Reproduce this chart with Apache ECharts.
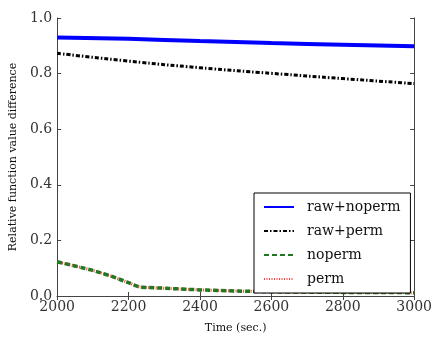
<!DOCTYPE html>
<html>
<head>
<meta charset="utf-8">
<script src="https://cdn.jsdelivr.net/npm/echarts@6/dist/echarts.min.js"></script>
<style>
  html, body { margin: 0; padding: 0; background: #fff; }
  #chart { width: 435px; height: 339px; }
</style>
</head>
<body>
<div id="chart"></div>
<script>
// time samples (sec.) and values
var timeRaw = [2000, 2200, 2400, 2600, 2800, 3000];
var rawNoperm = [0.930, 0.925, 0.917, 0.910, 0.904, 0.898];
var rawPerm = [0.873, 0.845, 0.821, 0.801, 0.782, 0.764];

var timeSmall = [2000, 2050, 2100, 2150, 2200, 2230, 2300, 2400, 2500, 2600, 2800, 3000];
var noperm = [0.123, 0.108, 0.092, 0.072, 0.048, 0.032, 0.028, 0.022, 0.018, 0.015, 0.013, 0.012];
var perm = [0.123, 0.108, 0.092, 0.072, 0.048, 0.032, 0.028, 0.022, 0.018, 0.015, 0.013, 0.012];

var xTicks = [2000, 2200, 2400, 2600, 2800, 3000];
var yTicks = [0.0, 0.2, 0.4, 0.6, 0.8, 1.0];

var serif = '"DejaVu Serif", "Liberation Serif", serif';

function pairs(xs, ys) {
  return xs.map(function (x, i) { return [x, ys[i]]; });
}

var chartDom = document.getElementById('chart');
var myChart = echarts.init(chartDom);
var option;
option = {
  animation: false,
  backgroundColor: '#fff',
  grid: { left: 50, right: 16, top: 18, bottom: 37 },
  legend: {
    orient: 'vertical',
    left: 254,
    top: 193,
    width: 165,
    padding: [7, 10, 7, 9],
    itemGap: 10,
    itemWidth: 30,
    itemHeight: 14,
    borderColor: '#000',
    borderWidth: 1,
    backgroundColor: '#fff',
    itemStyle: { opacity: 0 },
    textStyle: { fontFamily: serif, fontSize: 14, color: '#111', padding: [0, 0, 0, 8] },
    data: ['raw+noperm', 'raw+perm', 'noperm', 'perm']
  },
  xAxis: [{
    type: 'value',
    min: 2000,
    max: 3000,
    interval: 200,
    name: 'Time (sec.)',
    nameLocation: 'middle',
    nameGap: 27,
    nameTextStyle: { fontFamily: serif, fontSize: 11, color: '#111' },
    axisLine: { lineStyle: { color: '#444', width: 1 } },
    axisTick: { inside: true, length: 4, lineStyle: { color: '#444' } },
    axisLabel: {
      fontFamily: serif, fontSize: 14, color: '#333', margin: 4,
      formatter: function (v) { return String(v); }
    },
    splitLine: { show: false }
  }, {
    type: 'value',
    position: 'top',
    min: 2000,
    max: 3000,
    interval: 200,
    axisLine: { lineStyle: { color: '#444', width: 1 } },
    axisTick: { inside: true, length: 4, lineStyle: { color: '#444' } },
    axisLabel: { show: false },
    splitLine: { show: false }
  }],
  yAxis: [{
    type: 'value',
    min: 0,
    max: 1,
    interval: 0.2,
    name: 'Relative function value difference',
    nameLocation: 'middle',
    nameGap: 33,
    nameTextStyle: { fontFamily: serif, fontSize: 11, color: '#111' },
    axisLine: { show: true, lineStyle: { color: '#444', width: 1 } },
    axisTick: { show: true, inside: true, length: 4, lineStyle: { color: '#444' } },
    axisLabel: {
      fontFamily: serif, fontSize: 14, color: '#333', margin: 5,
      formatter: function (v) { return v.toFixed(1); }
    },
    splitLine: { show: false }
  }, {
    type: 'value',
    position: 'right',
    min: 0,
    max: 1,
    interval: 0.2,
    axisLine: { show: true, lineStyle: { color: '#444', width: 1 } },
    axisTick: { show: true, inside: true, length: 4, lineStyle: { color: '#444' } },
    axisLabel: { show: false },
    splitLine: { show: false }
  }],
  series: [{
    name: 'raw+noperm',
    type: 'line',
    symbol: 'none',
    smooth: true,
    data: pairs(timeRaw, rawNoperm),
    itemStyle: { color: '#0000ff' },
    lineStyle: { color: '#0000ff', width: 4 },
    z: 4
  }, {
    name: 'raw+perm',
    type: 'line',
    symbol: 'none',
    smooth: true,
    data: pairs(timeRaw, rawPerm),
    itemStyle: { color: '#000' },
    lineStyle: { color: '#000', width: 3, type: [4, 2, 1.5, 2] },
    z: 4
  }, {
    name: 'noperm',
    type: 'line',
    symbol: 'none',
    data: pairs(timeSmall, noperm),
    itemStyle: { color: '#1e7a1e' },
    lineStyle: { color: '#1e7a1e', width: 3.5, type: [5, 3] },
    z: 3
  }, {
    name: 'perm',
    type: 'line',
    symbol: 'none',
    data: pairs(timeSmall, perm),
    itemStyle: { color: '#ff3b3b' },
    lineStyle: { color: '#ff3b3b', width: 3, type: [1, 1.5] },
    z: 2
  }]
};
myChart.setOption(option);
</script>
</body>
</html>
